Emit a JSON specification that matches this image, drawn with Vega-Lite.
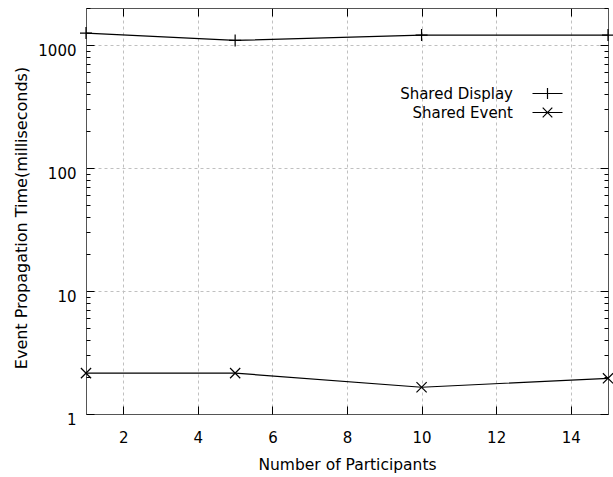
{
  "$schema": "https://vega.github.io/schema/vega-lite/v6.json",
  "width": 522,
  "height": 406,
  "autosize": {"type": "none"},
  "padding": {"left": 86, "top": 8, "right": 5, "bottom": 63},
  "background": "white",
  "config": {
    "view": {"stroke": "#555555", "strokeWidth": 1},
    "font": "DejaVu Sans",
    "axis": {"labelFont": "DejaVu Sans", "titleFont": "DejaVu Sans", "labelFontSize": 15, "titleFontSize": 15.5, "titleFontWeight": "normal", "labelColor": "black", "titleColor": "black", "tickColor": "black", "domain": false}
  },
  "data": {
    "values": [
      {"series": "Shared Display", "n": 1, "t": 1250},
      {"series": "Shared Display", "n": 5, "t": 1090},
      {"series": "Shared Display", "n": 10, "t": 1205},
      {"series": "Shared Display", "n": 15, "t": 1205},
      {"series": "Shared Event", "n": 1, "t": 2.15},
      {"series": "Shared Event", "n": 5, "t": 2.15},
      {"series": "Shared Event", "n": 10, "t": 1.65},
      {"series": "Shared Event", "n": 15, "t": 1.95}
    ]
  },
  "layer": [
    {
      "mark": {"type": "line", "color": "black", "strokeWidth": 1.2},
      "encoding": {
        "x": {"field": "n", "type": "quantitative", "scale": {"domain": [1, 15], "nice": false, "zero": false},
          "axis": {"orient": "bottom", "values": [2, 4, 6, 8, 10, 12, 14], "tickSize": -8, "grid": true, "gridDash": [3, 3], "gridColor": "#c0c0c0", "labelPadding": 24, "title": "Number of Participants", "titlePadding": 12}},
        "y": {"field": "t", "type": "quantitative", "scale": {"type": "log", "domain": [1, 2000], "nice": false},
          "axis": {"orient": "left",
            "values": [1, 2, 3, 4, 5, 6, 7, 8, 9, 10, 20, 30, 40, 50, 60, 70, 80, 90, 100, 200, 300, 400, 500, 600, 700, 800, 900, 1000, 2000],
            "labelExpr": "(datum.value==1||datum.value==10||datum.value==100||datum.value==1000) ? ''+datum.value : ''",
            "tickSize": {"condition": {"test": "datum.value==1||datum.value==10||datum.value==100||datum.value==1000", "value": -8}, "value": -4},
            "grid": true, "gridDash": [3, 3], "gridColor": "#c0c0c0",
            "gridOpacity": {"condition": {"test": "datum.value==10||datum.value==100||datum.value==1000", "value": 1}, "value": 0},
            "labelPadding": 18, "labelOffset": 5,
            "title": "Event Propagation Time(milliseconds)", "titleFontSize": 16,
            "titleX": -65, "titleY": 209.5, "titleAngle": -90, "titleAlign": "center", "titleBaseline": "middle"}},
        "detail": {"field": "series", "type": "nominal"}
      }
    },
    {
      "mark": {"type": "point", "filled": false, "stroke": "black", "strokeWidth": 1.2, "size": 144, "opacity": 1},
      "encoding": {
        "x": {"field": "n", "type": "quantitative", "axis": null},
        "y": {"field": "t", "type": "quantitative", "axis": null},
        "shape": {"field": "series", "type": "nominal",
          "scale": {"domain": ["Shared Display", "Shared Event"], "range": ["M-1,0L1,0M0,-1L0,1", "M-0.85,-0.85L0.85,0.85M-0.85,0.85L0.85,-0.85"]},
          "legend": null}
      }
    },
    {
      "mark": {"type": "point", "filled": false, "stroke": "black", "strokeWidth": 1.2, "size": 144, "opacity": 0},
      "encoding": {
        "x": {"field": "n", "type": "quantitative",
          "axis": {"orient": "top", "values": [2, 4, 6, 8, 10, 12, 14], "tickSize": -8, "labels": false, "grid": false, "title": null}},
        "y": {"field": "t", "type": "quantitative",
          "axis": {"orient": "right",
            "values": [1, 2, 3, 4, 5, 6, 7, 8, 9, 10, 20, 30, 40, 50, 60, 70, 80, 90, 100, 200, 300, 400, 500, 600, 700, 800, 900, 1000, 2000],
            "tickSize": {"condition": {"test": "datum.value==1||datum.value==10||datum.value==100||datum.value==1000", "value": -8}, "value": -4},
            "labels": false, "grid": false, "title": null}},
        "shape": {"field": "series", "type": "nominal",
          "scale": {"domain": ["Shared Display", "Shared Event"], "range": ["M-2.5,0L2.5,0M0,-0.9L0,0.9", "M-2.5,0L2.5,0M-0.8,-0.8L0.8,0.8M-0.8,0.8L0.8,-0.8"]},
          "legend": {"orient": "none", "legendX": 454, "legendY": 78, "title": null, "labelFontSize": 15, "labelFont": "DejaVu Sans", "labelColor": "black",
            "labelAlign": "right", "labelOffset": -42, "symbolSize": 144, "symbolStrokeWidth": 1.2, "symbolStrokeColor": "black", "symbolFillColor": "transparent", "symbolOpacity": 1, "rowPadding": 3}}
      }
    }
  ],
  "resolve": {"axis": {"x": "independent", "y": "independent"}, "scale": {"shape": "independent"}}
}
